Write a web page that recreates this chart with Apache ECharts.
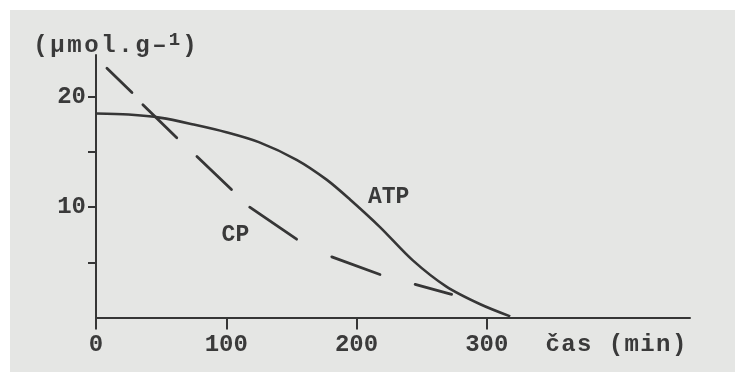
<!DOCTYPE html>
<html>
<head>
<meta charset="utf-8">
<script src="https://cdn.jsdelivr.net/npm/echarts@6/dist/echarts.min.js"></script>
<style>
html,body{margin:0;padding:0;background:#ffffff;}
#c{width:735px;height:372px;}
</style>
</head>
<body>
<div id="c"></div>
<script>
// ATP curve (time in min, value in µmol/g)
const atpTime  = [0, 25, 50, 75, 100, 125, 154, 177, 195, 218, 243, 269, 295, 318];
const atpValue = [18.5, 18.4, 18.1, 17.5, 16.8, 15.9, 14.3, 12.5, 10.7, 8.2, 5.2, 2.8, 1.2, 0.1];
// CP curve, drawn as dashes (null = gap between dashes)
const cpTime  = [8.4, 27.6, null, 36, 62, null, 77.5, 104, null, 118, 154, null, 181, 218, null, 245, 273];
const cpValue = [22.6, 20.4, null, 19.3, 16.3, null, 14.6, 11.6, null, 10.0, 7.1, null, 5.5, 3.9, null, 3.0, 2.1];
// Tick labels
const xTicks = [0, 100, 200, 300];
const yTickMarks = [5, 10, 15, 20];
const yTickLabels = [10, 20];
// Curve labels (data coordinates)
const atpLabel = ['ATP', 225, 10.9];
const cpLabel = ['CP', 107.4, 7.4];

const ink = '#363636';
const txt = '#3a3a3a';
const mono = '"Liberation Mono", "DejaVu Sans Mono", monospace';

// spread characters like a typewriter face
function spaced(str, style) {
  return Array.from(str).map(ch => '{' + style + '|' + (ch === ' ' ? '\u00a0' : ch) + '}').join('');
}

const chart = echarts.init(document.getElementById('c'), null, {renderer: 'canvas'});
const atpData = atpTime.map((t, i) => [t, atpValue[i]]);
const cpData = cpTime.map((t, i) => t === null ? ['-', '-'] : [t, cpValue[i]]);

const yName = spaced('(µmol.g–', 'a') + '{s|1}' + spaced(')', 'a');

chart.setOption({
  backgroundColor: '#ffffff',
  animation: false,
  graphic: [
    {type: 'rect', left: 10, top: 10, z: -100, silent: true,
     shape: {width: 725, height: 362}, style: {fill: '#e5e6e4'}},
    {type: 'text', left: 32, top: 31, z: 10,
     style: {
       text: yName,
       rich: {
         a: {fontFamily: mono, fontWeight: 'bold', fontSize: 24, fill: txt, lineHeight: 30, width: 17, align: 'center'},
         s: {fontFamily: mono, fontWeight: 'bold', fontSize: 19, fill: txt, verticalAlign: 'top', padding: [0, 0, 10, 0], lineHeight: 30, width: 13, align: 'center'}
       }
     }}
  ],
  grid: {left: 96, right: 45, top: 55, bottom: 54.5, containLabel: false, outerBoundsMode: 'none'},
  xAxis: {
    type: 'value', min: 0, max: 456, interval: 100,
    name: spaced('čas (min)', 'n'), nameLocation: 'end', nameGap: -3,
    nameTextStyle: {fontFamily: mono, fontWeight: 'bold', fontSize: 24, color: txt,
                    align: 'right', verticalAlign: 'top', padding: [15, 0, 0, 0],
                    rich: {n: {fontFamily: mono, fontWeight: 'bold', fontSize: 24, color: txt, width: 15.8, align: 'center'}}},
    axisLine: {show: true, lineStyle: {color: ink, width: 2}},
    axisTick: {show: true, customValues: xTicks, length: 12, lineStyle: {color: ink, width: 2}},
    axisLabel: {customValues: xTicks, margin: 15, fontFamily: mono, fontWeight: 'bold', fontSize: 24, color: txt},
    splitLine: {show: false}
  },
  yAxis: {
    type: 'value', min: 0, max: 23.8, interval: 5,
    axisLine: {show: true, lineStyle: {color: ink, width: 2}},
    axisTick: {show: true, customValues: yTickMarks, length: 8, lineStyle: {color: ink, width: 2}},
    axisLabel: {customValues: yTickLabels, margin: 10, fontFamily: mono, fontWeight: 'bold', fontSize: 24, color: txt},
    splitLine: {show: false}
  },
  series: [
    {name: 'ATP', type: 'line', data: atpData, smooth: 0.3,
     showSymbol: false, symbol: 'none', lineStyle: {color: ink, width: 2.6}},
    {name: 'CP', type: 'line', data: cpData, connectNulls: false,
     showSymbol: false, symbol: 'none', lineStyle: {color: ink, width: 2.8, cap: 'round'}},
    {name: 'labels', type: 'scatter', symbolSize: 1, itemStyle: {color: 'rgba(0,0,0,0)', opacity: 1},
     data: [
       {value: [atpLabel[1], atpLabel[2]], name: atpLabel[0]},
       {value: [cpLabel[1], cpLabel[2]], name: cpLabel[0]}
     ],
     label: {show: true, position: [0, 0], align: 'center', verticalAlign: 'middle',
             formatter: p => p.name, textBorderWidth: 0,
             fontFamily: mono, fontWeight: 'bold', fontSize: 23, color: txt}}
  ]
});
</script>
</body>
</html>
